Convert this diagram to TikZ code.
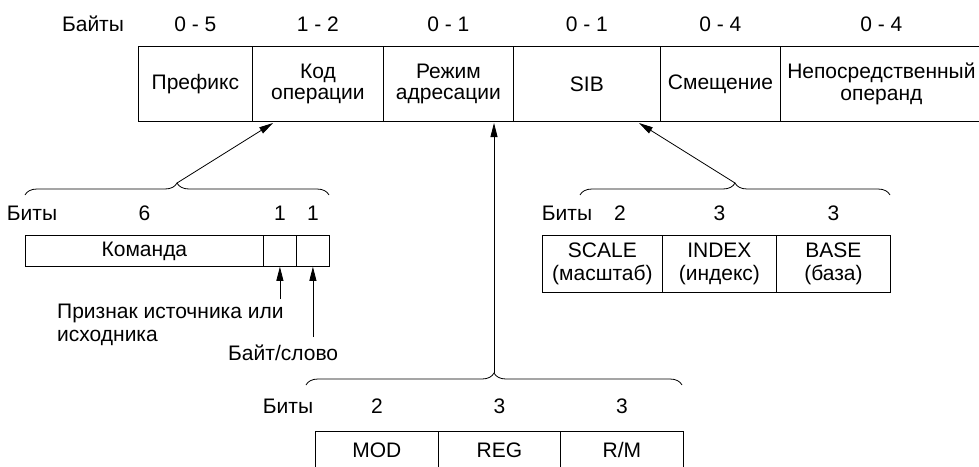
\documentclass[tikz,border=0pt]{standalone}
\usepackage{fontspec}
\setmainfont{Liberation Sans}
\usetikzlibrary{arrows.meta,positioning,calc,decorations.pathreplacing}
\tikzset{
  cell/.style={draw,line width=0.8pt,inner sep=0pt,align=center,anchor=north west,
    font=\fontsize{21}{21.5}\selectfont},
  lbl/.style={inner sep=0pt,font=\fontsize{21}{21.5}\selectfont},
  ptr/.style={line width=0.8pt,-{Triangle[length=14pt,width=7pt]}},
  brc/.style={line width=0.8pt,decorate,decoration={brace,amplitude=12pt}},
}

\begin{document}
\begin{tikzpicture}[x=1pt,y=-1pt]
\useasboundingbox (0,0) rectangle (979,466);
% instruction bytes
\node[lbl] (bytes) at (93,24) {Байты};
\node[cell,minimum width=114pt,minimum height=75pt] (prefix) at (138,46) {Префикс};
\node[cell,minimum width=131pt,minimum height=75pt] (opcode) at (252,46) {Код\\операции};
\node[cell,minimum width=130pt,minimum height=75pt] (modrm) at (383,46) {Режим\\адресации};
\node[cell,minimum width=147pt,minimum height=75pt] (sib) at (513,46) {SIB};
\node[cell,minimum width=120pt,minimum height=75pt] (disp) at (660,46) {Смещение};
\node[cell,minimum width=202pt,minimum height=75pt] (imm) at (780,46) {Непосредственный\\операнд};
\node[lbl] at (prefix |- bytes) {0 - 5};
\node[lbl] at (opcode |- bytes) {1 - 2};
\node[lbl] at (modrm |- bytes) {0 - 1};
\node[lbl] at (sib |- bytes) {0 - 1};
\node[lbl] at (disp |- bytes) {0 - 4};
\node[lbl] at (imm |- bytes) {0 - 4};

% opcode bits
\draw[brc] (25,195) -- (329,195);
\coordinate (optip) at (177,183);
\coordinate (opin) at (273,123);
\draw[ptr] (optip) -- (opin);
\node[lbl] (obits) at (32,213) {Биты};
\node[cell,minimum width=238pt,minimum height=31pt] (cmd) at (25,235) {Команда};
\node[cell,minimum width=33pt,minimum height=31pt] (dbit) at (263,235) {};
\node[cell,minimum width=33pt,minimum height=31pt] (wbit) at (296,235) {};
\node[lbl] at (cmd |- obits) {6};
\node[lbl] at (dbit |- obits) {1};
\node[lbl] at (wbit |- obits) {1};
\node[lbl,anchor=west,align=left,font=\fontsize{21}{23}\selectfont] (dtext) at (57,324.5)
  {Признак источника или\\исходника};
\node[lbl,anchor=west] (wtext) at (228,353) {Байт/слово};
\coordinate (dfrom) at (dbit.south |- 0,299);
\coordinate (wfrom) at (wbit.south |- 0,337);
\draw[ptr] (dfrom) -- (dbit.south);
\draw[ptr] (wfrom) -- (wbit.south);

% sib bits
\draw[brc] (580,195) -- (890,195);
\coordinate (sibtip) at (735,183);
\coordinate (sibin) at (639,123);
\draw[ptr] (sibtip) -- (sibin);
\node[lbl] (sbits) at (567,213) {Биты};
\node[cell,minimum width=120pt,minimum height=57pt,font=\fontsize{21}{23}\selectfont] (scale) at (542,235) {SCALE\\(масштаб)};
\node[cell,minimum width=114pt,minimum height=57pt,font=\fontsize{21}{23}\selectfont] (index) at (662,235) {INDEX\\(индекс)};
\node[cell,minimum width=114pt,minimum height=57pt,font=\fontsize{21}{23}\selectfont] (base) at (776,235) {BASE\\(база)};
\node[lbl] at (620,213) {2};
\node[lbl] at (index |- sbits) {3};
\node[lbl] at (base |- sbits) {3};

% modrm bits
\draw[brc] (306,385) -- (682,385);
\coordinate (mtip) at (494,373);
\coordinate (min) at (494,123);
\draw[ptr] (mtip) -- (min);
\node[lbl] (mbits) at (288,406) {Биты};
\node[cell,minimum width=123pt,minimum height=37pt] (mod) at (315,431) {MOD};
\node[cell,minimum width=122pt,minimum height=37pt] (reg) at (438,431) {REG};
\node[cell,minimum width=123pt,minimum height=37pt] (rm) at (560,431) {R/M};
\node[lbl] at (mod |- mbits) {2};
\node[lbl] at (reg |- mbits) {3};
\node[lbl] at (rm |- mbits) {3};
\end{tikzpicture}
\end{document}
